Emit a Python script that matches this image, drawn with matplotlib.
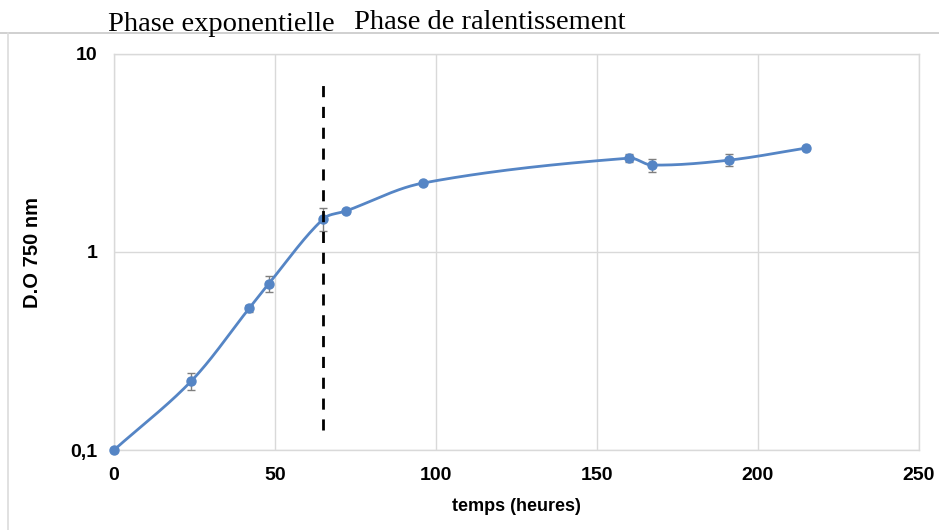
import numpy as np
import matplotlib
matplotlib.use("Agg")
import matplotlib.pyplot as plt
from matplotlib.lines import Line2D

# ---- data ----
hours = [0, 24, 42, 48, 65, 72, 96, 160, 167, 191, 215]
od750 = [0.10, 0.223, 0.52, 0.69, 1.47, 1.61, 2.23, 2.98, 2.75, 2.91, 3.35]
od_err = [0.0, 0.022, 0.02, 0.065, 0.20, 0.03, 0.04, 0.14, 0.20, 0.20, 0.05]
x_ticks = [0, 50, 100, 150, 200, 250]
y_ticks = [0.1, 1, 10]
y_tick_labels = ["0,1", "1", "10"]
phase_split = 65
title_left = "Phase exponentielle"
title_right = "Phase de ralentissement"
xlabel = "temps (heures)"
ylabel = "D.O 750 nm"

blue = "#5585C5"
grid_c = "#d9d9d9"
sans = ["Liberation Sans", "DejaVu Sans"]
serif = ["Liberation Serif", "DejaVu Serif"]

fig = plt.figure(figsize=(9.39, 5.30), dpi=100)
ax = fig.add_axes([114/939, 80/530, (919-114)/939, (450-54)/530])
ax.set_yscale("log")
ax.set_xlim(0, 250)
ax.set_ylim(0.1, 10)

# smooth (Excel-like) Bezier spline through the points in display-like space
def smooth_curve(xs, ys, n=40):
    X = np.array(xs, float) * 3.224
    Y = np.log10(np.array(ys, float)) * 198.0
    P = np.column_stack([X, Y])
    m = len(P)
    T = np.zeros_like(P)
    for i in range(m):
        p_prev = P[i - 1] if i > 0 else P[i]
        p_next = P[i + 1] if i + 1 < m else P[i]
        T[i] = p_next - p_prev
    out = []
    for i in range(m - 1):
        p1, p2 = P[i], P[i + 1]
        L = np.linalg.norm(p2 - p1)
        def handle(k):
            nrm = np.linalg.norm(T[k])
            if nrm == 0:
                return np.zeros(2)
            # tangent direction, length scaled to the segment
            return T[k] / nrm * L / 3.0
        c1 = p1 + handle(i)
        c2 = p2 - handle(i + 1)
        t = np.linspace(0, 1, n)[:, None]
        seg = ((1 - t) ** 3) * p1 + 3 * ((1 - t) ** 2) * t * c1 + 3 * (1 - t) * t ** 2 * c2 + t ** 3 * p2
        out.append(seg if i == 0 else seg[1:])
    S = np.vstack(out)
    return S[:, 0] / 3.224, 10 ** (S[:, 1] / 198.0)

sx, sy = smooth_curve(hours, od750)
ax.plot(sx, sy, color=blue, lw=2.0, zorder=3, solid_capstyle="round", clip_on=False)
ax.errorbar(hours, od750, yerr=od_err, fmt="none", ecolor="#7f7f7f", elinewidth=1.0,
            capsize=3, capthick=1.0, zorder=2)
ax.plot(hours, od750, "o", color=blue, ms=6.5, zorder=4, clip_on=False)

ax.vlines(phase_split, 0.126, 7.57, colors="black", linestyles=(0, (4, 3.5)), lw=2, zorder=5)

ax.set_xticks(x_ticks)
ax.set_yticks(y_ticks)
ax.set_yticklabels(y_tick_labels)
ax.yaxis.set_minor_locator(matplotlib.ticker.NullLocator())
ax.tick_params(length=0, pad=12)
for lab in ax.get_xticklabels() + ax.get_yticklabels():
    lab.set_family(sans)
    lab.set_fontweight("bold")
    lab.set_fontsize(14)
ax.grid(True, axis="both", color=grid_c, lw=1)
ax.set_axisbelow(True)
for s in ax.spines.values():
    s.set_color(grid_c)
    s.set_linewidth(1)

ax.set_xlabel(xlabel, family=sans, fontweight="bold", fontsize=13, labelpad=10)
ax.set_ylabel(ylabel, family=sans, fontweight="bold", fontsize=14.5, labelpad=20)

# outer frame
fig.add_artist(Line2D([0, 1], [1 - 33/530, 1 - 33/530], color="#c8c8c8", lw=1.2, transform=fig.transFigure))
fig.add_artist(Line2D([8/939, 8/939], [0, 1 - 33/530], color="#dcdcdc", lw=1.2, transform=fig.transFigure))

fig.text(108/939, 1 - 31/530, title_left, family=serif, fontsize=20.5, ha="left", va="baseline")
fig.text(354/939, 1 - 29/530, title_right, family=serif, fontsize=20.5, ha="left", va="baseline")

fig.savefig("out.png", dpi=100, facecolor="white")
